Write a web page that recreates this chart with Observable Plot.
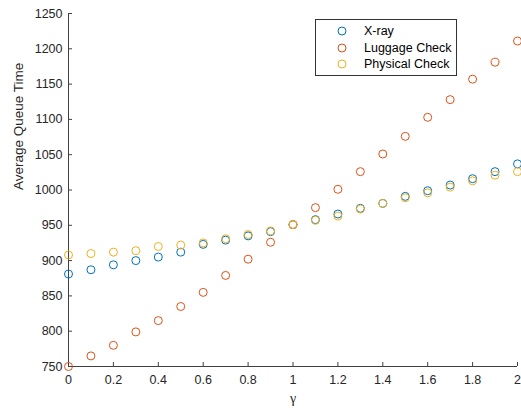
<!DOCTYPE html>
<html>
<head>
<meta charset="utf-8">
<script src="https://cdn.jsdelivr.net/npm/d3@7"></script>
<script src="https://cdn.jsdelivr.net/npm/@observablehq/plot@0.6"></script>
<style>
  body { margin: 0; background: #fff; }
  #wrap { position: relative; width: 521px; height: 410px; font-family: "Liberation Sans", Arial, sans-serif; }
  #legend { position: absolute; left: 315px; top: 19px; width: 140px; height: 55px; border: 1px solid #333; background: #fff; font-size: 12.5px; color: #000; }
  #legend .row { position: absolute; left: 0; height: 16px; display: flex; align-items: center; }
  #legend svg { margin-left: 21px; margin-right: 17px; }
</style>
</head>
<body>
<div id="wrap"></div>
<script>
const gamma = [0,0.1,0.2,0.3,0.4,0.5,0.6,0.7,0.8,0.9,1.0,1.1,1.2,1.3,1.4,1.5,1.6,1.7,1.8,1.9,2.0];
const xray     = [881,887,894,900,905,912,923,929,935,941,951,958,966,974,981,991,999,1007,1016,1026,1037];
const luggage  = [750,765,780,799,815,835,855,879,902,926,951,975,1001,1026,1051,1076,1103,1128,1157,1181,1211];
const physical = [908,910,912,914,920,922,925,931,937,942,951,957,963,973,981,989,996,1004,1013,1021,1026];
const seriesNames = ["X-ray", "Luggage Check", "Physical Check"];
const seriesColors = ["#0072BD", "#D95319", "#EDB120"];
const xTicks = [0,0.2,0.4,0.6,0.8,1,1.2,1.4,1.6,1.8,2];
const yTicks = [750,800,850,900,950,1000,1050,1100,1150,1200,1250];

const values = [xray, luggage, physical];
const data = [];
seriesNames.forEach((s, i) => gamma.forEach((g, j) => data.push({series: s, g, v: values[i][j]})));

const chart = Plot.plot({
  width: 521,
  height: 410,
  marginLeft: 68,
  marginRight: 4,
  marginTop: 13,
  marginBottom: 44,
  style: {fontFamily: "Liberation Sans, Arial, sans-serif", fontSize: "12.5px", color: "#262626", background: "#fff"},
  x: {domain: [0, 2]},
  y: {domain: [750, 1250]},
  color: {domain: seriesNames, range: seriesColors},
  marks: [
    Plot.axisX({ticks: xTicks, tickSize: -4, tickPadding: 13, tickFormat: d => String(d), label: null, stroke: "#404040"}),
    Plot.axisY({ticks: yTicks, tickSize: -4, tickPadding: 10, tickFormat: d => String(d), label: null, stroke: "#404040"}),
    Plot.ruleY([750], {stroke: "#404040"}),
    Plot.ruleX([0], {stroke: "#404040"}),
    Plot.dot(data, {x: "g", y: "v", stroke: "series", r: 4, strokeWidth: 1, fill: "none"}),
    Plot.text(["γ"], {frameAnchor: "bottom", dy: 36, fontFamily: "Liberation Serif, Times New Roman, serif", fontSize: 14, fill: "#262626"}),
    Plot.text(["Average Queue Time"], {frameAnchor: "left", dx: -50, rotate: -90, fontSize: 13.5, fill: "#262626"})
  ]
});

const wrap = document.getElementById("wrap");
wrap.appendChild(chart);

const legend = document.createElement("div");
legend.id = "legend";
seriesNames.forEach((s, i) => {
  const row = document.createElement("div");
  row.className = "row";
  row.style.top = (3 + i * 16.5) + "px";
  row.innerHTML = `<svg width="10" height="10"><circle cx="5" cy="5" r="4" fill="none" stroke="${seriesColors[i]}" stroke-width="1"/></svg><span>${s}</span>`;
  legend.appendChild(row);
});
wrap.appendChild(legend);
</script>
</body>
</html>
